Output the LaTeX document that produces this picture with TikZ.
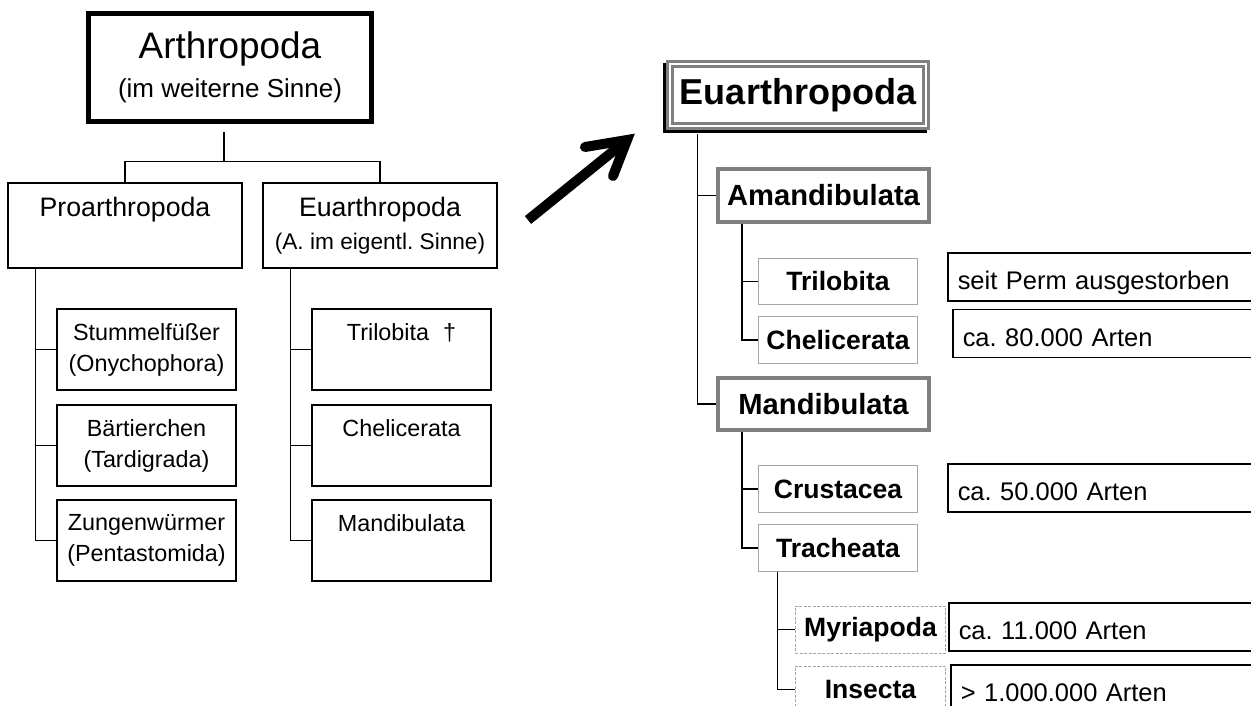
\documentclass[tikz,border=0pt]{standalone}
\usepackage{fontspec}
\setmainfont{Liberation Sans}
\usetikzlibrary{arrows.meta,shadows}
\frenchspacing

\begin{document}
\begin{tikzpicture}[x=0.02cm, y=-0.02cm, line width=0.03cm,
  arthbox/.style={draw, line width=0.1cm, minimum width=5.66cm, minimum height=2.16cm,
    inner sep=2pt, align=center, font=\fontsize{21}{22.2}\selectfont},
  grpbox/.style={draw, minimum width=4.68cm, minimum height=1.7cm, inner sep=2pt,
    align=center, font=\fontsize{15.2}{18.8}\selectfont},
  leafbox/.style={draw, minimum width=3.58cm, minimum height=1.62cm, inner sep=2pt,
    align=center, font=\fontsize{13.3}{17.6}\selectfont},
  topbox/.style={draw=gray, double=white, double distance=0.04cm, line width=0.062cm,
    fill=white, general shadow={draw=black, line width=0.164cm, shadow xshift=-0.06cm, shadow yshift=-0.06cm},
    minimum width=5.13cm, minimum height=1.25cm, inner sep=2pt,
    font=\bfseries\fontsize{20.5}{24}\selectfont},
  midbox/.style={draw=gray, line width=0.08cm, minimum width=4.24cm, minimum height=1.06cm,
    inner sep=2pt, font=\bfseries\fontsize{16.6}{20}\selectfont},
  subbox/.style={draw=gray!70, line width=0.02cm, minimum width=3.2cm, minimum height=0.94cm,
    inner sep=2pt, font=\bfseries\fontsize{15.1}{18}\selectfont},
  dashbox/.style={subbox, dash pattern=on 0.06cm off 0.03cm, minimum width=3.02cm},
  infobox/.style={draw, anchor=west, minimum width=6.6cm, minimum height=0.96cm, inner xsep=0.2cm,
    text width=6.2cm, text height=0.5cm, text depth=0cm, align=left,
    font=\fontsize{14.5}{18}\selectfont},
  bigarrow/.style={line width=0.2cm, line join=miter}]
  \clip (0,0) rectangle (1251,706);
  % left tree
  \node[arthbox] (arth) at (230,67.5) {Arthropoda\\{\fontsize{14.8}{22.2}\selectfont (im weiterne Sinne)}};
  \node[grpbox] (pro) at (125,225.5) {Proarthropoda\\{\fontsize{12.9}{18.8}\selectfont\phantom{(}}};
  \node[grpbox] (eu) at (380,225.5) {Euarthropoda\\{\fontsize{12.9}{18.8}\selectfont (A. im eigentl. Sinne)}};
  \node[leafbox] (stum) at (146.5,349.5) {Stummelfüßer\\(Onychophora)};
  \node[leafbox] (baer) at (146.5,445.5) {Bärtierchen\\(Tardigrada)};
  \node[leafbox] (zung) at (146.5,540.5) {Zungenwürmer\\(Pentastomida)};
  \node[leafbox] (tril) at (401.5,349.5) {Trilobita\hspace{0.6em}†\\\phantom{(}};
  \node[leafbox] (chel) at (401.5,445.5) {Chelicerata\\\phantom{(}};
  \node[leafbox] (mand) at (401.5,540.5) {Mandibulata\\\phantom{(}};
  % stem and fork
  \draw ([xshift=-0.12cm,yshift=-0.16cm]arth.south) -- ++(0,30);
  \draw (pro.north) -- ++(0,-21) -| (eu.north);
  % buses
  \coordinate (probus) at ([xshift=0.56cm]pro.south west);
  \coordinate (eubus) at ([xshift=0.56cm]eu.south west);
  \draw (probus) |- (zung.west);
  \draw (eubus) |- (mand.west);
  \foreach \n in {stum,baer} \draw (\n.west) -- (\n.west -| probus);
  \foreach \n in {tril,chel} \draw (\n.west) -- (\n.west -| eubus);
  % arrow
  \coordinate (arrtail) at (528,220);
  \coordinate (arrtip) at (627,140);
  \coordinate (wingA) at (585,147);
  \coordinate (wingB) at (613,176);
  \draw[bigarrow] (arrtail) -- (arrtip);
  \draw[bigarrow, line cap=round] (wingA) -- (arrtip) -- (wingB);
  % right tree
  \node[topbox] (euR) at (798,95) {Euarthropoda};
  \node[midbox] (aman) at (823.5,195.5) {Amandibulata};
  \node[midbox] (manR) at (823.5,404) {Mandibulata};
  \node[subbox] (trilR) at (838,281.5) {Trilobita};
  \node[subbox] (chelR) at (838,340) {Chelicerata};
  \node[subbox] (crus) at (838,489) {Crustacea};
  \node[subbox] (trach) at (838,548) {Tracheata};
  \node[dashbox] (myri) at (870.5,629.5) {Myriapoda};
  \node[dashbox] (insc) at (870.5,689.5) {Insecta};
  % species counts
  \node[infobox] (iTril) at (947,277) {seit Perm ausgestorben};
  \node[infobox] (iChel) at (952,333.5) {ca. 80.000 Arten};
  \node[infobox] (iCrus) at (947,488) {ca. 50.000 Arten};
  \node[infobox] (iMyri) at (948,627) {ca. 11.000 Arten};
  \node[infobox] (iInsc) at (950,689) {> 1.000.000 Arten};
  % right buses
  \coordinate (rbus) at ([xshift=0.585cm,yshift=-0.13cm]euR.south west);
  \coordinate (abus) at ([xshift=0.53cm]aman.south west);
  \coordinate (mbus) at ([xshift=0.53cm]manR.south west);
  \coordinate (tbus) at ([xshift=0.4cm]trach.south west);
  \draw (rbus) |- (manR.west);
  \draw (aman.west) -- (aman.west -| rbus);
  \draw (abus) |- (chelR.west);
  \draw (trilR.west) -- (trilR.west -| abus);
  \draw (mbus) |- (trach.west);
  \draw (crus.west) -- (crus.west -| mbus);
  \draw (tbus) |- (insc.west);
  \draw (myri.west) -- (myri.west -| tbus);
\end{tikzpicture}
\end{document}
